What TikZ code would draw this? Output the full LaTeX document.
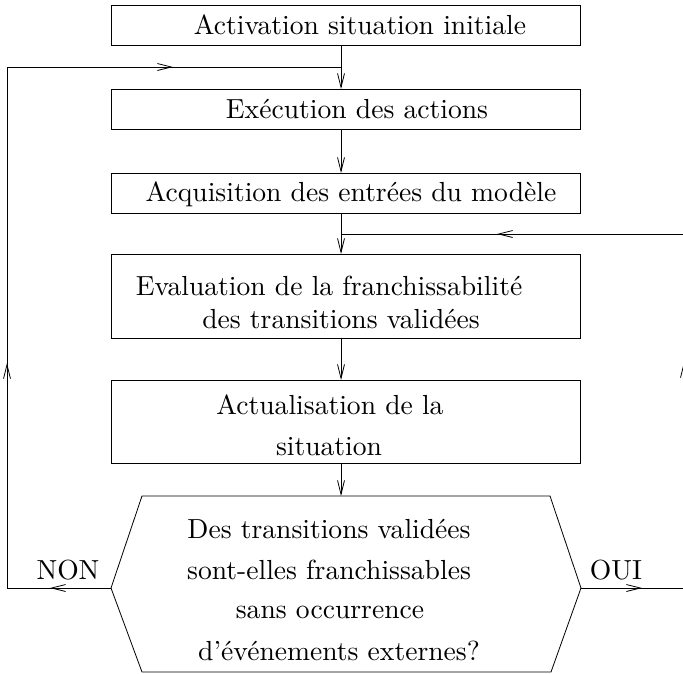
\documentclass[tikz,border=0pt]{standalone}
\usepackage{fontspec}
\setmainfont{lmroman10-regular.otf}
\usetikzlibrary{arrows.meta,decorations.markings}
\tikzset{
  box/.style={draw, line width=0.8pt, minimum width=469pt, inner sep=0pt, outer sep=0pt},
  txt/.style={anchor=base, inner sep=0pt, font=\fontsize{27.6}{33}\selectfont},
  tip/.tip={Straight Barb[length=14pt,width=7pt,line width=0.8pt]},
  arr/.style={line width=0.8pt, -tip},
  ln/.style={line width=0.8pt},
}
\begin{document}
\begin{tikzpicture}[x=1pt,y=-1pt]
\useasboundingbox (0,0) rectangle (683,673);
% boxes
\node[box, minimum height=40pt] (b1) at (345.5,25) {};
\node[box, minimum height=40pt] (b2) at (345.5,109) {};
\node[box, minimum height=40pt] (b3) at (345.5,193) {};
\node[box, minimum height=84pt] (b4) at (345.5,296) {};
\node[box, minimum height=83pt] (b5) at (345.5,421.5) {};
% hexagon
\coordinate (hL) at (111,588);
\coordinate (hR) at (581,588);
\coordinate (hTL) at (142,496);
\coordinate (hTR) at (550,496);
\coordinate (hBR) at (551,672);
\coordinate (hBL) at (142,672);
\coordinate (hT) at (341,496);
\draw[ln] (hTL) -- (hTR) -- (hR) -- (hBR) -- (hBL) -- (hL) -- cycle;
% texts
\node[txt] (t1) at (360,34) {Activation situation initiale};
\node[txt] (t2) at (357,118) {Exécution des actions};
\node[txt] (t3) at (351,201) {Acquisition des entrées du modèle};
\node[txt] (t4a) at (329,295) {Evaluation de la franchissabilité};
\node[txt] (t4b) at (341,328) {des transitions validées};
\node[txt] (t5a) at (330,414) {Actualisation de la};
\node[txt] (t5b) at (329,455) {situation};
\node[txt] (t6a) at (329,538) {Des transitions validées};
\node[txt] (t6b) at (329,579) {sont-elles franchissables};
\node[txt] (t6c) at (330,618) {sans occurrence};
\node[txt] (t6d) at (339,660) {d'événements externes?};
\node[txt] (non) at (68,579) {NON};
\node[txt] (oui) at (616,579) {OUI};
% vertical connectors
\coordinate (cx) at (341,0);
\draw[arr] (b1.south -| cx) -- (b2.north -| cx);
\draw[arr] (b2.south -| cx) -- (b3.north -| cx);
\draw[arr] (b3.south -| cx) -- (b4.north -| cx);
\draw[arr] (b4.south -| cx) -- (b5.north -| cx);
\draw[arr] (b5.south -| cx) -- (hT);
% loops
\coordinate (LL) at (7,588);
\coordinate (LT) at (7,67);
\coordinate (J1) at (341,67);
\coordinate (RR) at (684,588);
\coordinate (RT) at (684,234);
\coordinate (J2) at (341,234);
\draw[ln, postaction={decorate, decoration={markings,
    mark=at position 61pt with {\arrow{tip}},
    mark=at position 329pt with {\arrow{tip}},
    mark=at position 791pt with {\arrow{tip}}}}]
  (hL) -- (LL) -- (LT) -- (J1);
\draw[ln, postaction={decorate, decoration={markings,
    mark=at position 61pt with {\arrow{tip}},
    mark=at position 329pt with {\arrow{tip}},
    mark=at position 644pt with {\arrow{tip}}}}]
  (hR) -- (RR) -- (RT) -- (J2);
\end{tikzpicture}
\end{document}
